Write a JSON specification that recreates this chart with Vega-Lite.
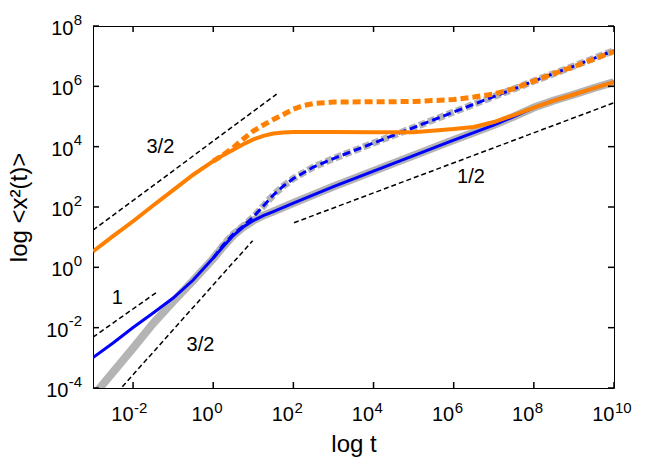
{
  "$schema": "https://vega.github.io/schema/vega-lite/v6.json",
  "width": 521,
  "height": 362,
  "autosize": {"type": "none"},
  "padding": {"left": 93, "top": 26, "right": 40, "bottom": 70},
  "background": "white",
  "config": {
    "view": {"stroke": "#000", "strokeWidth": 1},
    "font": "Liberation Sans",
    "axis": {"domain": false, "grid": false, "ticks": false, "tickSize": 0, "labelColor": "#000", "titleColor": "#000", "labelFont": "Liberation Sans", "titleFont": "Liberation Sans", "labelFontSize": 20, "titleFontSize": 24, "titleFontWeight": "normal"}
  },
  "datasets": {
    "curves": [
      {"s": "g", "t": 0.001, "y": 5.37e-5},
      {"s": "g", "t": 0.003162, "y": 3.357e-4},
      {"s": "g", "t": 0.01, "y": 2.094e-3},
      {"s": "g", "t": 0.03162, "y": 1.38e-2},
      {"s": "g", "t": 0.1, "y": 7.278e-2},
      {"s": "g", "t": 0.3162, "y": 0.3648},
      {"s": "g", "t": 1, "y": 1.95},
      {"s": "g", "t": 1.778, "y": 4.887},
      {"s": "g", "t": 3.162, "y": 11.32},
      {"s": "g", "t": 5.623, "y": 21.68},
      {"s": "g", "t": 10, "y": 35.56},
      {"s": "g", "t": 17.78, "y": 52.12},
      {"s": "g", "t": 31.62, "y": 70.79},
      {"s": "g", "t": 100, "y": 135.2},
      {"s": "g", "t": 1000, "y": 476.4},
      {"s": "g", "t": 10000, "y": 1556},
      {"s": "g", "t": 100000, "y": 5082},
      {"s": "g", "t": 1000000, "y": 16560},
      {"s": "g", "t": 10000000, "y": 52120},
      {"s": "g", "t": 31620000, "y": 99540},
      {"s": "g", "t": 100000000, "y": 198200},
      {"s": "g", "t": 316200000, "y": 338100},
      {"s": "g", "t": 1000000000, "y": 534600},
      {"s": "g", "t": 3162000000, "y": 877000},
      {"s": "g", "t": 10000000000, "y": 1387000},

      {"s": "gd", "t": 1, "y": 2.032},
      {"s": "gd", "t": 1.778, "y": 5.483},
      {"s": "gd", "t": 3.162, "y": 12.71},
      {"s": "gd", "t": 5.623, "y": 23.39},
      {"s": "gd", "t": 10, "y": 46.45},
      {"s": "gd", "t": 17.78, "y": 107.6},
      {"s": "gd", "t": 31.62, "y": 248.9},
      {"s": "gd", "t": 56.23, "y": 495.5},
      {"s": "gd", "t": 100, "y": 877},
      {"s": "gd", "t": 316.2, "y": 2113},
      {"s": "gd", "t": 1000, "y": 4036},
      {"s": "gd", "t": 10000, "y": 13180},
      {"s": "gd", "t": 100000, "y": 43050},
      {"s": "gd", "t": 1000000, "y": 140600},
      {"s": "gd", "t": 10000000, "y": 458100},
      {"s": "gd", "t": 31620000, "y": 812800},
      {"s": "gd", "t": 100000000, "y": 1496000},
      {"s": "gd", "t": 1000000000, "y": 4699000},
      {"s": "gd", "t": 10000000000, "y": 15350000},

      {"s": "b", "t": 0.001, "y": 1.023e-3},
      {"s": "b", "t": 0.003162, "y": 3.097e-3},
      {"s": "b", "t": 0.01, "y": 1.012e-2},
      {"s": "b", "t": 0.03162, "y": 3.055e-2},
      {"s": "b", "t": 0.1, "y": 0.0959},
      {"s": "b", "t": 0.3162, "y": 0.3793},
      {"s": "b", "t": 1, "y": 2.032},
      {"s": "b", "t": 1.778, "y": 4.887},
      {"s": "b", "t": 3.162, "y": 11.32},
      {"s": "b", "t": 5.623, "y": 21.68},
      {"s": "b", "t": 10, "y": 35.56},
      {"s": "b", "t": 17.78, "y": 52.12},
      {"s": "b", "t": 31.62, "y": 70.79},
      {"s": "b", "t": 100, "y": 135.2},
      {"s": "b", "t": 1000, "y": 476.4},
      {"s": "b", "t": 10000, "y": 1556},
      {"s": "b", "t": 100000, "y": 5082},
      {"s": "b", "t": 1000000, "y": 16560},
      {"s": "b", "t": 10000000, "y": 52120},
      {"s": "b", "t": 31620000, "y": 99540},
      {"s": "b", "t": 100000000, "y": 198200},
      {"s": "b", "t": 316200000, "y": 338100},
      {"s": "b", "t": 1000000000, "y": 534600},
      {"s": "b", "t": 3162000000, "y": 877000},
      {"s": "b", "t": 10000000000, "y": 1387000},

      {"s": "bd", "t": 1, "y": 2.032},
      {"s": "bd", "t": 1.778, "y": 5.483},
      {"s": "bd", "t": 3.162, "y": 12.71},
      {"s": "bd", "t": 5.623, "y": 23.39},
      {"s": "bd", "t": 10, "y": 46.45},
      {"s": "bd", "t": 17.78, "y": 107.6},
      {"s": "bd", "t": 31.62, "y": 248.9},
      {"s": "bd", "t": 56.23, "y": 495.5},
      {"s": "bd", "t": 100, "y": 877},
      {"s": "bd", "t": 316.2, "y": 2113},
      {"s": "bd", "t": 1000, "y": 4036},
      {"s": "bd", "t": 10000, "y": 13180},
      {"s": "bd", "t": 100000, "y": 43050},
      {"s": "bd", "t": 1000000, "y": 140600},
      {"s": "bd", "t": 10000000, "y": 458100},
      {"s": "bd", "t": 31620000, "y": 812800},
      {"s": "bd", "t": 100000000, "y": 1496000},
      {"s": "bd", "t": 1000000000, "y": 4699000},
      {"s": "bd", "t": 10000000000, "y": 15350000},

      {"s": "o", "t": 0.001, "y": 3.342},
      {"s": "o", "t": 0.003162, "y": 10.89},
      {"s": "o", "t": 0.01, "y": 33.73},
      {"s": "o", "t": 0.03162, "y": 111.7},
      {"s": "o", "t": 0.1, "y": 364.8},
      {"s": "o", "t": 0.3162, "y": 1175},
      {"s": "o", "t": 1, "y": 3311},
      {"s": "o", "t": 1.778, "y": 5248},
      {"s": "o", "t": 3.162, "y": 7943},
      {"s": "o", "t": 5.623, "y": 12020},
      {"s": "o", "t": 10, "y": 17380},
      {"s": "o", "t": 17.78, "y": 22910},
      {"s": "o", "t": 31.62, "y": 27230},
      {"s": "o", "t": 56.23, "y": 29510},
      {"s": "o", "t": 100, "y": 30550},
      {"s": "o", "t": 1000, "y": 30550},
      {"s": "o", "t": 10000, "y": 30060},
      {"s": "o", "t": 100000, "y": 29850},
      {"s": "o", "t": 1000000, "y": 38370},
      {"s": "o", "t": 3162000, "y": 44670},
      {"s": "o", "t": 10000000, "y": 65460},
      {"s": "o", "t": 31620000, "y": 111700},
      {"s": "o", "t": 100000000, "y": 198200},
      {"s": "o", "t": 316200000, "y": 338100},
      {"s": "o", "t": 1000000000, "y": 534600},
      {"s": "o", "t": 3162000000, "y": 877000},
      {"s": "o", "t": 10000000000, "y": 1387000},

      {"s": "od", "t": 1, "y": 3311},
      {"s": "od", "t": 1.778, "y": 5370},
      {"s": "od", "t": 3.162, "y": 9354},
      {"s": "od", "t": 5.623, "y": 17910},
      {"s": "od", "t": 10, "y": 32960},
      {"s": "od", "t": 17.78, "y": 52120},
      {"s": "od", "t": 31.62, "y": 79250},
      {"s": "od", "t": 56.23, "y": 116100},
      {"s": "od", "t": 100, "y": 176600},
      {"s": "od", "t": 177.8, "y": 230700},
      {"s": "od", "t": 316.2, "y": 268500},
      {"s": "od", "t": 1000, "y": 301300},
      {"s": "od", "t": 10000, "y": 308300},
      {"s": "od", "t": 100000, "y": 313300},
      {"s": "od", "t": 1000000, "y": 364800},
      {"s": "od", "t": 3162000, "y": 441600},
      {"s": "od", "t": 10000000, "y": 554600},
      {"s": "od", "t": 31620000, "y": 843300},
      {"s": "od", "t": 100000000, "y": 1496000},
      {"s": "od", "t": 316200000, "y": 2655000},
      {"s": "od", "t": 1000000000, "y": 4529000},
      {"s": "od", "t": 3162000000, "y": 8017000},
      {"s": "od", "t": 10000000000, "y": 14220000}
    ],
    "guides": [
      {"g": "A", "t": 0.001, "y": 17.02},
      {"g": "A", "t": 38.24, "y": 554600},
      {"g": "B", "t": 0.001, "y": 0.004842},
      {"g": "B", "t": 0.04051, "y": 0.1552},
      {"g": "C", "t": 0.005401, "y": 0.0001102},
      {"g": "C", "t": 9.605, "y": 7.621},
      {"g": "D", "t": 103.5, "y": 30.06},
      {"g": "D", "t": 10000000000, "y": 285800}
    ],
    "labels": [
      {"t": 0.04808, "y": 9772, "text": "3/2"},
      {"t": 0.004046, "y": 0.096, "text": "1"},
      {"t": 0.4809, "y": 0.002661, "text": "3/2"},
      {"t": 2692000, "y": 984, "text": "1/2"}
    ],
    "xexp": [
      {"v": 0.01, "e": "-2"},
      {"v": 1, "e": "0"},
      {"v": 100, "e": "2"},
      {"v": 10000, "e": "4"},
      {"v": 1000000, "e": "6"},
      {"v": 100000000, "e": "8"},
      {"v": 10000000000, "e": "10"}
    ],
    "yexp": [
      {"v": 0.0001, "e": "-4"},
      {"v": 0.01, "e": "-2"},
      {"v": 1, "e": "0"},
      {"v": 100, "e": "2"},
      {"v": 10000, "e": "4"},
      {"v": 1000000, "e": "6"},
      {"v": 100000000, "e": "8"}
    ]
  },
  "layer": [
    {
      "data": {"name": "curves"},
      "transform": [{"filter": "datum.s === 'g'"}],
      "mark": {"type": "line", "color": "#b4b4b4", "strokeWidth": 8, "clip": true},
      "encoding": {
        "x": {"field": "t", "type": "quantitative",
          "scale": {"type": "log", "domain": [0.001, 10000000000], "nice": false},
          "axis": {"orient": "bottom", "title": "log t", "values": [0.01, 1, 100, 10000, 1000000, 100000000, 10000000000],
            "labelExpr": "'10'", "labelAlign": "right", "labelBaseline": "alphabetic",
            "labelPadding": 32, "labelFlush": false, "labelOverlap": false, "titlePadding": 8}},
        "y": {"field": "y", "type": "quantitative",
          "scale": {"type": "log", "domain": [0.0001, 100000000], "nice": false},
          "axis": {"orient": "left", "title": "log <x²(t)>", "values": [0.0001, 0.01, 1, 100, 10000, 1000000, 100000000],
            "labelExpr": "'10'", "labelAlign": "right", "labelBaseline": "alphabetic", "labelOffset": 8.5,
            "labelPadding": {"condition": {"test": "datum.value < 0.5", "value": 25}, "value": 20},
            "labelFlush": false, "labelOverlap": false, "titlePadding": 14}}
      }
    },
    {
      "data": {"name": "curves"},
      "transform": [{"filter": "datum.s === 'gd'"}],
      "mark": {"type": "line", "color": "#b4b4b4", "strokeWidth": 7, "strokeDash": [7, 3], "clip": true},
      "encoding": {
        "x": {"field": "t", "type": "quantitative"},
        "y": {"field": "y", "type": "quantitative"}
      }
    },
    {
      "data": {"name": "curves"},
      "transform": [{"filter": "datum.s === 'b'"}],
      "mark": {"type": "line", "color": "#0000ff", "strokeWidth": 3, "clip": true},
      "encoding": {
        "x": {"field": "t", "type": "quantitative"},
        "y": {"field": "y", "type": "quantitative"}
      }
    },
    {
      "data": {"name": "curves"},
      "transform": [{"filter": "datum.s === 'bd'"}],
      "mark": {"type": "line", "color": "#0000ff", "strokeWidth": 3, "strokeDash": [8, 4], "clip": true},
      "encoding": {
        "x": {"field": "t", "type": "quantitative"},
        "y": {"field": "y", "type": "quantitative"}
      }
    },
    {
      "data": {"name": "curves"},
      "transform": [{"filter": "datum.s === 'o'"}],
      "mark": {"type": "line", "color": "#ff8000", "strokeWidth": 4, "clip": true},
      "encoding": {
        "x": {"field": "t", "type": "quantitative"},
        "y": {"field": "y", "type": "quantitative"}
      }
    },
    {
      "data": {"name": "curves"},
      "transform": [{"filter": "datum.s === 'od'"}],
      "mark": {"type": "line", "color": "#ff8000", "strokeWidth": 5, "strokeDash": [8, 4], "clip": true},
      "encoding": {
        "x": {"field": "t", "type": "quantitative"},
        "y": {"field": "y", "type": "quantitative"}
      }
    },
    {
      "data": {"name": "guides"},
      "mark": {"type": "line", "color": "#000", "strokeWidth": 1.5, "strokeDash": [5, 3], "clip": true},
      "encoding": {
        "x": {"field": "t", "type": "quantitative"},
        "y": {"field": "y", "type": "quantitative"},
        "detail": {"field": "g", "type": "nominal"}
      }
    },
    {
      "data": {"name": "labels"},
      "mark": {"type": "text", "fontSize": 20, "font": "Liberation Sans", "color": "#000", "align": "center", "baseline": "middle"},
      "encoding": {
        "x": {"field": "t", "type": "quantitative"},
        "y": {"field": "y", "type": "quantitative"},
        "text": {"field": "text", "type": "nominal"}
      }
    },
    {
      "data": {"name": "xexp"},
      "mark": {"type": "text", "fontSize": 15, "font": "Liberation Sans", "color": "#000", "align": "left", "baseline": "alphabetic", "dx": 1, "dy": 25},
      "encoding": {
        "x": {"field": "v", "type": "quantitative"},
        "y": {"datum": 0.0001, "type": "quantitative"},
        "text": {"field": "e", "type": "nominal"}
      }
    },
    {
      "data": {"name": "yexp"},
      "mark": {"type": "text", "fontSize": 15, "font": "Liberation Sans", "color": "#000", "align": "right", "baseline": "alphabetic", "dx": -11, "dy": -1.5},
      "encoding": {
        "x": {"datum": 0.001, "type": "quantitative"},
        "y": {"field": "v", "type": "quantitative"},
        "text": {"field": "e", "type": "nominal"}
      }
    },
    {
      "data": {"name": "xexp"},
      "mark": {"type": "rule", "color": "#000", "strokeWidth": 1.5},
      "encoding": {
        "x": {"field": "v", "type": "quantitative"},
        "y": {"datum": 0.0001, "type": "quantitative"},
        "y2": {"datum": 0.000158}
      }
    },
    {
      "data": {"name": "xexp"},
      "mark": {"type": "rule", "color": "#000", "strokeWidth": 1.5},
      "encoding": {
        "x": {"field": "v", "type": "quantitative"},
        "y": {"datum": 100000000, "type": "quantitative"},
        "y2": {"datum": 63300000}
      }
    },
    {
      "data": {"name": "yexp"},
      "mark": {"type": "rule", "color": "#000", "strokeWidth": 1.5},
      "encoding": {
        "y": {"field": "v", "type": "quantitative"},
        "x": {"datum": 0.001, "type": "quantitative"},
        "x2": {"datum": 0.0014125}
      }
    },
    {
      "data": {"name": "yexp"},
      "mark": {"type": "rule", "color": "#000", "strokeWidth": 1.5},
      "encoding": {
        "y": {"field": "v", "type": "quantitative"},
        "x": {"datum": 10000000000, "type": "quantitative"},
        "x2": {"datum": 7080000000}
      }
    }
  ]
}
